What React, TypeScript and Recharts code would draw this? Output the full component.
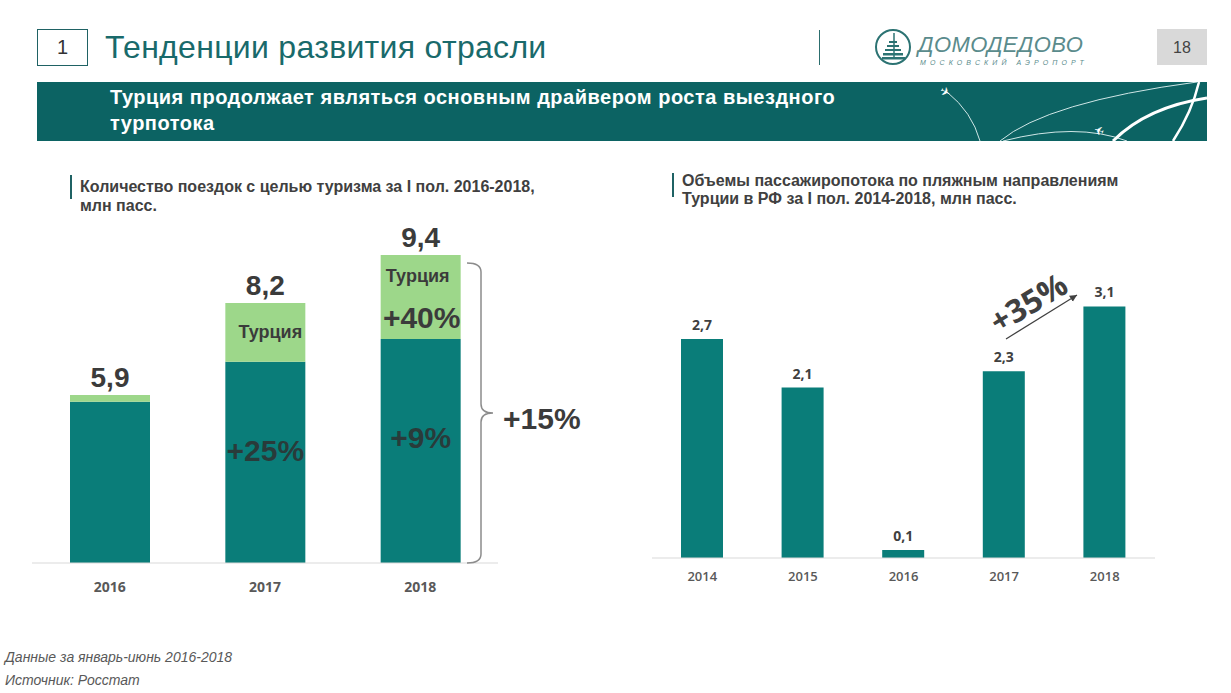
import { BarChart, Bar, XAxis, YAxis, LabelList } from 'recharts';

// left chart: trips for tourism, H1 2016-2018
const tripYears = ['2016', '2017', '2018'];
const otherTrips = [5.73, 6.73, 7.3];
const turkeyTrips = [0.17, 1.47, 2.1];
const tripTotals = ['5,9', '8,2', '9,4'];
const turkeyNames = ['', 'Турция', 'Турция'];
const turkeyGrowth = ['', '', '+40%'];
const otherGrowth = ['', '+25%', '+9%'];

// right chart: beach destinations of Turkey
const beachYears = ['2014', '2015', '2016', '2017', '2018'];
const beachValues = [2.7, 2.1, 0.1, 2.3, 3.1];

const TEAL = '#0a7d79';
const GREEN = '#9dd78a';
const DARK = '#3b3b3b';

const tripData = tripYears.map((year, i) => ({
  year,
  other: otherTrips[i],
  turkey: turkeyTrips[i],
}));
const beachData = beachYears.map((year, i) => ({ year, value: beachValues[i] }));

const LEFT_PLOT_BOTTOM = 363; // in chart coordinates

function TurkeyLabel(props: any) {
  const { x, y, width, height, index } = props;
  const cx = x + width / 2;
  const name = turkeyNames[index];
  const growth = turkeyGrowth[index];
  return (
    <g>
      <text x={cx} y={y - 8} textAnchor="middle" fill={DARK} fontSize={28} fontWeight={700} fontFamily="Liberation Sans">
        {tripTotals[index]}
      </text>
      {name && !growth && (
        <text x={cx + 5} y={y + height / 2} dominantBaseline="central" textAnchor="middle" fill={DARK} fontSize={18} fontWeight={700} fontFamily="Liberation Sans">
          {name}
        </text>
      )}
      {name && growth && (
        <text x={cx - 3} y={y + 21} dominantBaseline="central" textAnchor="middle" fill={DARK} fontSize={18} fontWeight={700} fontFamily="Liberation Sans">
          {name}
        </text>
      )}
      {growth && (
        <text x={cx + 1} y={y + height - 22} dominantBaseline="central" textAnchor="middle" fill={DARK} fontSize={30} fontWeight={700} fontFamily="Liberation Sans">
          {growth}
        </text>
      )}
    </g>
  );
}

function OtherLabel(props: any) {
  const { x, y, width, index } = props;
  const g = otherGrowth[index];
  if (!g) return null;
  const cy = y + (LEFT_PLOT_BOTTOM - y) * 0.44;
  return (
    <text x={x + width / 2} y={cy} dominantBaseline="central" textAnchor="middle" fill="#2f2f2f" fillOpacity={0.85} fontSize={30} fontWeight={700} fontFamily="Liberation Sans">
      {g}
    </text>
  );
}

function Logo() {
  return (
    <svg width={40} height={40} style={{ position: 'absolute', left: 873, top: 27 }}>
      <circle cx={20} cy={20} r={17} fill="none" stroke="#2c7373" strokeWidth={2} />
      <line x1={21} y1={6} x2={21} y2={30} stroke="#2c7373" strokeWidth={1.5} />
      <rect x={16} y={14} width={8} height={2} fill="#2c7373" />
      <rect x={14} y={18} width={12} height={2} fill="#2c7373" />
      <rect x={12} y={22} width={16} height={2} fill="#2c7373" />
      <rect x={10} y={26} width={20} height={2.5} fill="#2c7373" />
      <rect x={9} y={30} width={23} height={2.5} fill="#2c7373" />
    </svg>
  );
}

export default function App() {
  return (
    <div style={{ position: 'relative', width: 1231, height: 693, background: '#fff', fontFamily: 'Liberation Sans, Arial, sans-serif', overflow: 'hidden' }}>
      <style>{'body{margin:0}'}</style>

      {/* header */}
      <div style={{ position: 'absolute', left: 37, top: 29, width: 49, height: 35, border: '1px solid #1f6264', textAlign: 'center', lineHeight: '35px', fontSize: 20, color: '#333' }}>1</div>
      <div style={{ position: 'absolute', left: 105, top: 28, fontSize: 32, lineHeight: '38px', letterSpacing: 0.3, color: '#196a6b' }}>Тенденции развития отрасли</div>
      <div style={{ position: 'absolute', left: 819, top: 30, width: 1, height: 35, background: '#2c6e6e' }} />
      <Logo />
      <div style={{ position: 'absolute', left: 918, top: 32, fontSize: 22, fontStyle: 'italic', color: '#5a8b8c', letterSpacing: 0.4, lineHeight: '26px' }}>ДОМОДЕДОВО</div>
      <div style={{ position: 'absolute', left: 920, top: 58, fontSize: 7, color: '#5a8b8c', letterSpacing: 4.1, lineHeight: '9px', fontStyle: 'italic' }}>МОСКОВСКИЙ АЭРОПОРТ</div>
      <div style={{ position: 'absolute', left: 1157, top: 29, width: 50, height: 36, background: '#d9d9d9', textAlign: 'center', lineHeight: '38px', fontSize: 16, color: '#444' }}>18</div>

      <div style={{ position: 'absolute', left: 37, top: 82, width: 1170, height: 59, background: '#0c6363', overflow: 'hidden' }}>
        <svg width={1170} height={59} style={{ position: 'absolute', left: 0, top: 0 }}>
          <path d="M 910 10 Q 935 30 943 59" stroke="#cfe6e6" strokeWidth={1} fill="none" />
          <path d="M 1160 0 Q 1010 20 963 59" stroke="#cfe6e6" strokeWidth={1} fill="none" />
          <path d="M 966 59 Q 1040 40 1090 59" stroke="#cfe6e6" strokeWidth={1} fill="none" />
          <path d="M 1076 59 Q 1110 25 1170 16" stroke="#fff" strokeWidth={3} fill="none" />
          <path d="M 1136 59 Q 1155 30 1162 0" stroke="#fff" strokeWidth={2.5} fill="none" />
          <text x={903} y={14} fill="#fff" fontSize={12} fontFamily="DejaVu Sans" transform="rotate(30 908 10)">✈</text>
          <text x={1055} y={54} fill="#fff" fontSize={12} fontFamily="DejaVu Sans" transform="rotate(200 1061 49)">✈</text>
        </svg>
        <div style={{ position: 'absolute', left: 73, top: 2, fontSize: 20, fontWeight: 700, letterSpacing: 0.5, lineHeight: '26px', color: '#fff' }}>
          Турция продолжает являться основным драйвером роста выездного
          <br />
          турпотока
        </div>
      </div>

      {/* left chart title */}
      <div style={{ position: 'absolute', left: 70, top: 175, width: 2, height: 24, background: '#1f6264' }} />
      <div style={{ position: 'absolute', left: 80, top: 177, fontSize: 16, fontWeight: 700, lineHeight: '19px', color: '#404040' }}>
        Количество поездок с целью туризма за I пол. 2016-2018,
        <br />
        млн пасс.
      </div>

      {/* right chart title */}
      <div style={{ position: 'absolute', left: 672, top: 173, width: 2, height: 24, background: '#1f6264' }} />
      <div style={{ position: 'absolute', left: 682, top: 172, fontSize: 16, fontWeight: 700, lineHeight: '18px', color: '#404040' }}>
        Объемы пассажиропотока по пляжным направлениям
        <br />
        Турции в РФ за I пол. 2014-2018, млн пасс.
      </div>

      {/* left chart */}
      <div style={{ position: 'absolute', left: 0, top: 200 }}>
        <BarChart width={620} height={420} data={tripData} margin={{ top: 23, right: 122, bottom: 0, left: 32 }}>
          <XAxis
            dataKey="year"
            height={57}
            tickSize={0}
            tickMargin={19}
            tickLine={false}
            axisLine={{ stroke: '#d9d9d9' }}
            tick={{ fill: '#595959', fontSize: 14, fontWeight: 700, fontFamily: 'Open Sans' }}
          />
          <YAxis hide domain={[1.7, 10.2]} allowDataOverflow />
          <Bar dataKey="other" stackId="a" fill={TEAL} barSize={80} isAnimationActive={false}>
            <LabelList dataKey="other" content={OtherLabel} />
          </Bar>
          <Bar dataKey="turkey" stackId="a" fill={GREEN} barSize={80} isAnimationActive={false}>
            <LabelList dataKey="turkey" content={TurkeyLabel} />
          </Bar>
        </BarChart>
      </div>

      {/* right chart */}
      <div style={{ position: 'absolute', left: 640, top: 240 }}>
        <BarChart width={540} height={370} data={beachData} margin={{ top: 34, right: 25, bottom: 0, left: 12 }}>
          <XAxis
            dataKey="year"
            height={52}
            tickSize={0}
            tickMargin={14}
            tickLine={false}
            axisLine={{ stroke: '#d9d9d9' }}
            tick={{ fill: '#595959', fontSize: 13, fontWeight: 600, fontFamily: 'Open Sans' }}
          />
          <YAxis hide domain={[0, 3.5]} />
          <Bar dataKey="value" fill={TEAL} barSize={42} isAnimationActive={false}>
            <LabelList
              dataKey="value"
              position="top"
              offset={9}
              formatter={(v: any) => String(v).replace('.', ',')}
              style={{ fill: '#404040', fontSize: 14, fontWeight: 700, fontFamily: 'Open Sans' }}
            />
          </Bar>
        </BarChart>
      </div>

      {/* annotations */}
      <svg width={1231} height={693} style={{ position: 'absolute', left: 0, top: 0, pointerEvents: 'none' }}>
        <defs>
          <marker id="arr" markerWidth={8} markerHeight={8} refX={6} refY={3} orient="auto">
            <path d="M0,0 L6,3 L0,6 z" fill="#404040" />
          </marker>
        </defs>
        <path
          d="M 467 263 Q 481 263 481 272 L 481 404 Q 481 413 493 413 Q 481 413 481 422 L 481 554 Q 481 563 467 563"
          stroke="#8c8c8c"
          strokeWidth={1.5}
          fill="none"
        />
        <text x={503} y={429} fill={DARK} fontSize={30} fontWeight={700} fontFamily="Liberation Sans">+15%</text>
        <line x1={1006} y1={339} x2={1077} y2={295} stroke="#404040" strokeWidth={1.2} markerEnd="url(#arr)" />
        <text x={1028} y={302} fill="#404040" fontSize={32} fontWeight={700} fontFamily="Open Sans" textAnchor="middle" dominantBaseline="central" transform="rotate(-31 1028 302)">
          +35%
        </text>
      </svg>

      {/* footnote */}
      <div style={{ position: 'absolute', left: 5, top: 646, fontSize: 14, fontStyle: 'italic', lineHeight: '23px', color: '#595959' }}>
        Данные за январь-июнь 2016-2018
        <br />
        Источник: Росстат
      </div>
    </div>
  );
}
